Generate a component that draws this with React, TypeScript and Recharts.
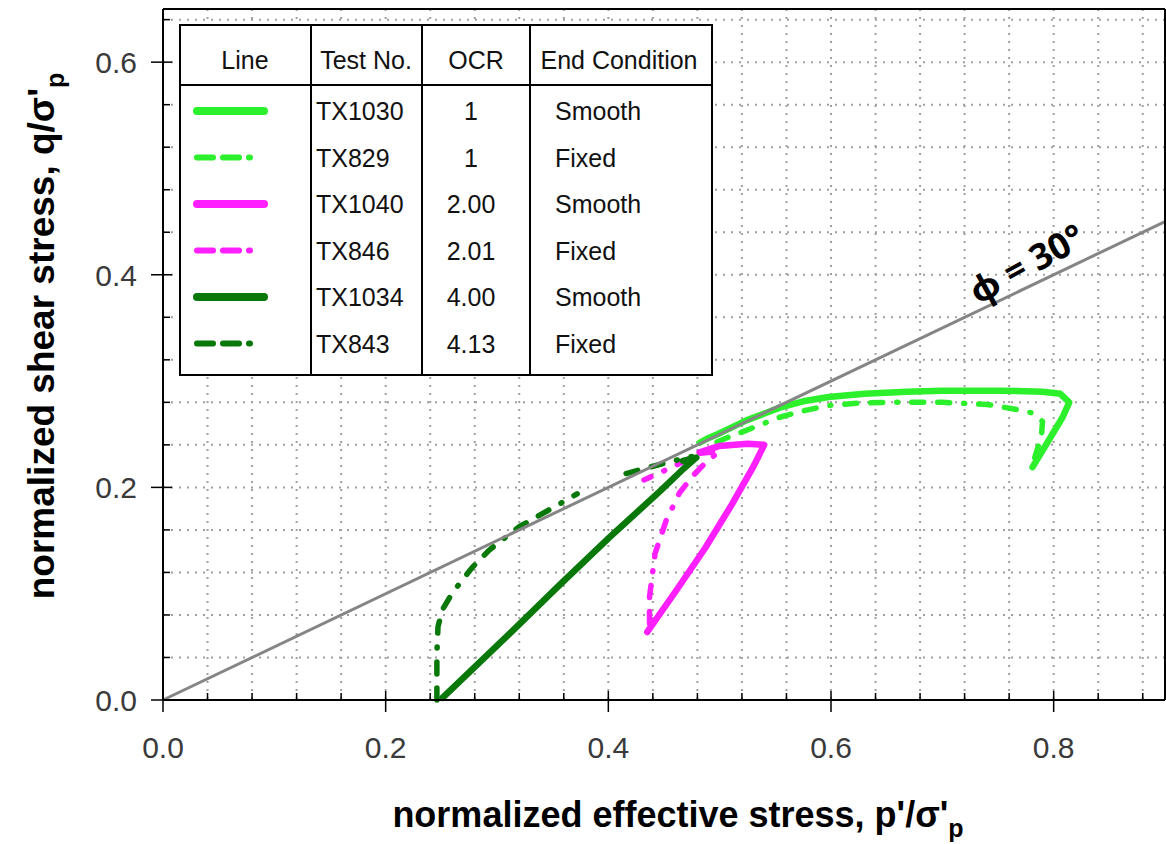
import { CartesianGrid, Line, LineChart, XAxis, YAxis } from 'recharts'

const xTicks = [0, 0.04, 0.08, 0.12, 0.16, 0.2, 0.24, 0.28, 0.32, 0.36, 0.4, 0.44, 0.48, 0.52, 0.56, 0.6, 0.64, 0.68, 0.72, 0.76, 0.8, 0.84, 0.88]
const yTicks = [0, 0.04, 0.08, 0.12, 0.16, 0.2, 0.24, 0.28, 0.32, 0.36, 0.4, 0.44, 0.48, 0.52, 0.56, 0.6, 0.64]
const majorTicks = [0, 0.2, 0.4, 0.6, 0.8]

// p'/σ'p vs q/σ'p
const tx1030 = [
  { p: 0.781, q: 0.219 },
  { p: 0.796, q: 0.245 },
  { p: 0.808, q: 0.266 },
  { p: 0.814, q: 0.28 },
  { p: 0.806, q: 0.288 },
  { p: 0.79, q: 0.29 },
  { p: 0.75, q: 0.291 },
  { p: 0.7, q: 0.291 },
  { p: 0.668, q: 0.29 },
  { p: 0.63, q: 0.288 },
  { p: 0.598, q: 0.285 },
  { p: 0.575, q: 0.281 },
  { p: 0.554, q: 0.275 },
  { p: 0.539, q: 0.269 },
  { p: 0.524, q: 0.263 },
  { p: 0.51, q: 0.256 },
  { p: 0.498, q: 0.25 },
  { p: 0.489, q: 0.246 },
  { p: 0.482, q: 0.242 },
]
const tx829 = [
  { p: 0.783, q: 0.228 },
  { p: 0.789, q: 0.248 },
  { p: 0.79, q: 0.262 },
  { p: 0.781, q: 0.27 },
  { p: 0.763, q: 0.274 },
  { p: 0.74, q: 0.278 },
  { p: 0.7, q: 0.28 },
  { p: 0.65, q: 0.28 },
  { p: 0.62, q: 0.279 },
  { p: 0.598, q: 0.277 },
  { p: 0.575, q: 0.272 },
  { p: 0.554, q: 0.266 },
  { p: 0.537, q: 0.259 },
  { p: 0.52, q: 0.252 },
  { p: 0.505, q: 0.246 },
  { p: 0.492, q: 0.24 },
]
const tx1040 = [
  { p: 0.435, q: 0.064 },
  { p: 0.461, q: 0.103 },
  { p: 0.487, q: 0.143 },
  { p: 0.511, q: 0.184 },
  { p: 0.53, q: 0.219 },
  { p: 0.54, q: 0.24 },
  { p: 0.525, q: 0.241 },
  { p: 0.5, q: 0.239 },
  { p: 0.482, q: 0.233 },
]
const tx846 = [
  { p: 0.437, q: 0.072 },
  { p: 0.437, q: 0.097 },
  { p: 0.442, q: 0.138 },
  { p: 0.452, q: 0.169 },
  { p: 0.464, q: 0.195 },
  { p: 0.476, q: 0.211 },
  { p: 0.488, q: 0.224 },
  { p: 0.5, q: 0.234 },
  { p: 0.482, q: 0.232 },
  { p: 0.455, q: 0.218 },
  { p: 0.432, q: 0.207 },
]
const tx1034 = [
  { p: 0.251, q: 0.002 },
  { p: 0.282, q: 0.033 },
  { p: 0.313, q: 0.064 },
  { p: 0.357, q: 0.109 },
  { p: 0.401, q: 0.153 },
  { p: 0.446, q: 0.196 },
  { p: 0.468, q: 0.218 },
  { p: 0.479, q: 0.228 },
  { p: 0.467, q: 0.225 },
]
const tx843 = [
  { p: 0.246, q: 0.0 },
  { p: 0.246, q: 0.044 },
  { p: 0.247, q: 0.069 },
  { p: 0.251, q: 0.085 },
  { p: 0.26, q: 0.101 },
  { p: 0.278, q: 0.125 },
  { p: 0.293, q: 0.141 },
  { p: 0.32, q: 0.163 },
  { p: 0.347, q: 0.179 },
  { p: 0.372, q: 0.194 },
  { p: 0.39, q: null },
  { p: 0.416, q: 0.213 },
  { p: 0.437, q: 0.219 },
  { p: 0.455, q: 0.224 },
  { p: 0.475, q: 0.229 },
]
const phiLine = [
  { p: 0, q: 0 },
  { p: 0.9, q: 0.45 },
]

const testNos = ['TX1030', 'TX829', 'TX1040', 'TX846', 'TX1034', 'TX843']
const ocrLabels = ['1', '1', '2.00', '2.01', '4.00', '4.13']
const endConditions = ['Smooth', 'Fixed', 'Smooth', 'Fixed', 'Smooth', 'Fixed']
const seriesData = [tx1030, tx829, tx1040, tx846, tx1034, tx843]

const LIGHT = '#2cf02c'
const MAGENTA = '#ff1fff'
const DARK = '#087808'
const DASH = '12 14 12 14 1 14'
const styles = [
  { color: LIGHT, dashed: false },
  { color: LIGHT, dashed: true },
  { color: MAGENTA, dashed: false },
  { color: MAGENTA, dashed: true },
  { color: DARK, dashed: false },
  { color: DARK, dashed: true },
]

const FONT = '"Liberation Sans", Arial, sans-serif'
const isMajor = (v: number) => majorTicks.some((m) => Math.abs(m - v) < 1e-6)

function BottomTick({ x, y, payload }: any) {
  const major = isMajor(payload.value)
  return (
    <g>
      <line x1={x} x2={x} y1={y - (major ? 9 : 7)} y2={y + (major ? 12 : 0)} stroke="#000" strokeWidth={1.5} />
      {major && (
        <text x={x} y={y + 58} textAnchor="middle" fontFamily={FONT} fontSize={30} fill="#3a3a3a">
          {payload.value.toFixed(1)}
        </text>
      )}
    </g>
  )
}

function LeftTick({ x, y, payload }: any) {
  const major = isMajor(payload.value)
  return (
    <g>
      <line x1={x - (major ? 12 : 0)} x2={x + (major ? 9 : 7)} y1={y} y2={y} stroke="#000" strokeWidth={1.5} />
      {major && (
        <text x={x - 26} y={y} dy="0.36em" textAnchor="end" fontFamily={FONT} fontSize={30} fill="#3a3a3a">
          {payload.value.toFixed(1)}
        </text>
      )}
    </g>
  )
}

function TopTick({ x, y, payload }: any) {
  const major = isMajor(payload.value)
  return <line x1={x} x2={x} y1={y} y2={y + (major ? 9 : 7)} stroke="#000" strokeWidth={1.5} />
}

function RightTick({ x, y, payload }: any) {
  const major = isMajor(payload.value)
  return <line x1={x} x2={x - (major ? 9 : 7)} y1={y} y2={y} stroke="#000" strokeWidth={1.5} />
}

function LegendTable() {
  const cols = [180, 311, 422, 530, 712]
  const top = 25
  const bottom = 375
  const headY = 85
  return (
    <g fontFamily={FONT} fontSize={25} fill="#111">
      <rect x={cols[0]} y={top} width={cols[4] - cols[0]} height={bottom - top} fill="#fff" stroke="#000" strokeWidth={2} />
      <line x1={cols[0]} x2={cols[4]} y1={headY} y2={headY} stroke="#000" strokeWidth={2} />
      {cols.slice(1, 4).map((cx) => (
        <line key={cx} x1={cx} x2={cx} y1={top} y2={bottom} stroke="#000" strokeWidth={2} />
      ))}
      <text x={245} y={60} dy="0.36em" textAnchor="middle">Line</text>
      <text x={366} y={60} dy="0.36em" textAnchor="middle">Test No.</text>
      <text x={476} y={60} dy="0.36em" textAnchor="middle">OCR</text>
      <text x={619} y={60} dy="0.36em" textAnchor="middle">End Condition</text>
      {testNos.map((t, i) => {
        const cy = 111 + i * 46.5
        const s = styles[i]
        return (
          <g key={t}>
            <line
              x1={197}
              x2={264}
              y1={cy}
              y2={cy}
              stroke={s.color}
              strokeWidth={s.dashed ? 6 : 8}
              strokeLinecap="round"
              strokeDasharray={s.dashed ? '16 10 16 10 1 40' : undefined}
            />
            <text x={316} y={cy} dy="0.36em">{t}</text>
            <text x={471} y={cy} dy="0.36em" textAnchor="middle">{ocrLabels[i]}</text>
            <text x={555} y={cy} dy="0.36em">{endConditions[i]}</text>
          </g>
        )
      })}
    </g>
  )
}

export default function App() {
  return (
    <div style={{ position: 'absolute', left: 0, top: 0, width: 1166, height: 844, background: '#fff' }}>
      <LineChart width={1166} height={844} margin={{ top: 1, right: 0, bottom: 104, left: 103 }}>
        <CartesianGrid stroke="#a0a0a0" strokeWidth={2} strokeDasharray="2 6" />
        <XAxis
          type="number"
          dataKey="p"
          domain={[0, 0.9]}
          ticks={xTicks}
          height={40}
          tickSize={0}
          tickMargin={0}
          tickLine={false}
          tick={BottomTick}
          interval={0}
          axisLine={{ stroke: '#000', strokeWidth: 2 }}
        />
        <XAxis
          xAxisId="top"
          orientation="top"
          type="number"
          dataKey="p"
          domain={[0, 0.9]}
          ticks={xTicks}
          height={8}
          tickSize={0}
          tickMargin={0}
          tickLine={false}
          tick={TopTick}
          interval={0}
          axisLine={{ stroke: '#000', strokeWidth: 2 }}
        />
        <YAxis
          type="number"
          domain={[0, 0.65]}
          ticks={yTicks}
          width={60}
          tickSize={0}
          tickMargin={0}
          tickLine={false}
          tick={LeftTick}
          interval={0}
          axisLine={{ stroke: '#000', strokeWidth: 2 }}
        />
        <YAxis
          yAxisId="right"
          orientation="right"
          type="number"
          domain={[0, 0.65]}
          ticks={yTicks}
          width={1}
          tickSize={0}
          tickMargin={0}
          tickLine={false}
          tick={RightTick}
          interval={0}
          axisLine={{ stroke: '#000', strokeWidth: 2 }}
        />
        {seriesData.map((d, i) => (
          <Line
            key={testNos[i]}
            data={d}
            dataKey="q"
            type="linear"
            stroke={styles[i].color}
            strokeWidth={styles[i].dashed ? 5.5 : 6.5}
            strokeDasharray={styles[i].dashed ? DASH : undefined}
            strokeLinecap="round"
            strokeLinejoin="round"
            dot={false}
            activeDot={false}
            isAnimationActive={false}
          />
        ))}
        <Line
          data={phiLine}
          dataKey="q"
          type="linear"
          stroke="#858585"
          strokeWidth={3}
          dot={false}
          activeDot={false}
          isAnimationActive={false}
        />
      </LineChart>
      <svg width={1166} height={844} style={{ position: 'absolute', left: 0, top: 0, pointerEvents: 'none' }}>
        <LegendTable />
        <text
          x={1027}
          y={264}
          textAnchor="middle"
          dy="0.35em"
          transform="rotate(-29 1027 264)"
          fontFamily='"Open Sans", "Noto Sans", sans-serif'
          fontWeight="bold"
          fontSize={36}
          fill="#000"
        >
          ϕ = 30°
        </text>
        <text x={678} y={827} textAnchor="middle" fontFamily={FONT} fontWeight="bold" fontSize={36} fill="#000">
          normalized effective stress, p'/σ'
          <tspan fontSize={25} dy={10}>p</tspan>
        </text>
        <text
          transform="translate(54 336) rotate(-90)"
          textAnchor="middle"
          fontFamily={FONT}
          fontWeight="bold"
          fontSize={37}
          fill="#000"
        >
          normalized shear stress, q/σ'
          <tspan fontSize={25} dy={10}>p</tspan>
        </text>
      </svg>
    </div>
  )
}
